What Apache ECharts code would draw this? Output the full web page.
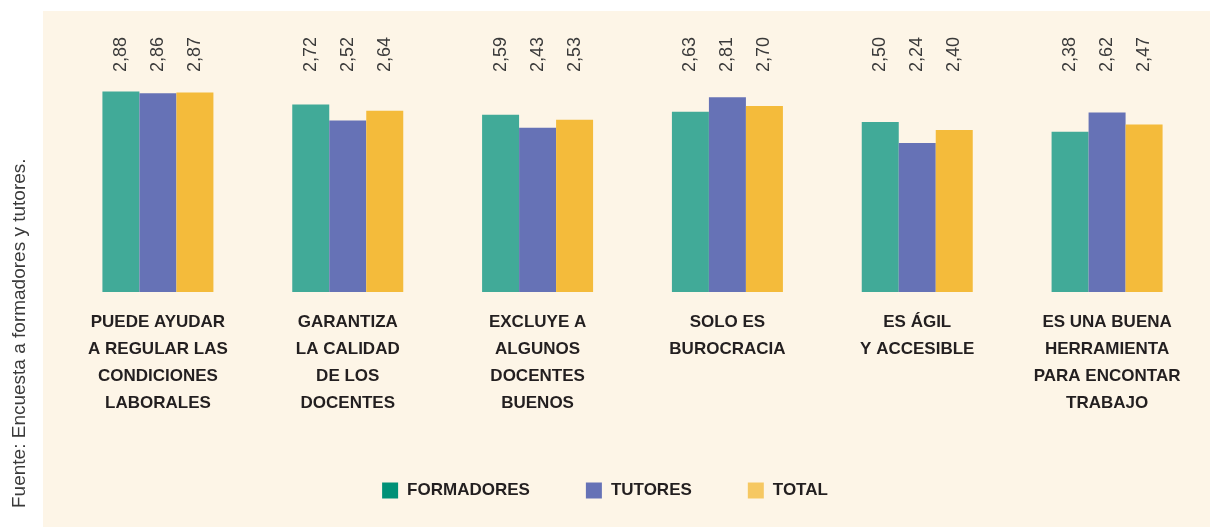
<!DOCTYPE html>
<html>
<head>
<meta charset="utf-8">
<script src="https://cdn.jsdelivr.net/npm/echarts@6/dist/echarts.min.js"></script>
<style>
  html, body { margin: 0; padding: 0; background: #fff; }
  #chart { width: 1210px; height: 527px; }
</style>
</head>
<body>
<div id="chart"></div>
<script>
const categories = [
  'PUEDE AYUDAR\nA REGULAR LAS\nCONDICIONES\nLABORALES',
  'GARANTIZA\nLA CALIDAD\nDE LOS\nDOCENTES',
  'EXCLUYE A\nALGUNOS\nDOCENTES\nBUENOS',
  'SOLO ES\nBUROCRACIA',
  'ES ÁGIL\nY ACCESIBLE',
  'ES UNA BUENA\nHERRAMIENTA\nPARA ENCONTAR\nTRABAJO'
];
const formadores = [2.88, 2.72, 2.59, 2.63, 2.50, 2.38];
const tutores = [2.86, 2.52, 2.43, 2.81, 2.24, 2.62];
const total = [2.87, 2.64, 2.53, 2.70, 2.40, 2.47];
const seriesNames = ['FORMADORES', 'TUTORES', 'TOTAL'];
const source = 'Fuente: Encuesta a formadores y tutores.';

const barColors = ['#41aa98', '#6672b6', '#f4bb3b'];
const legendColors = ['#009177', '#6672b6', '#f6c862'];

const chart = echarts.init(document.getElementById('chart'));

const makeSeries = (name, data, i) => ({
  name: name,
  type: 'bar',
  data: data,
  barWidth: 37,
  barGap: '0%',
  itemStyle: { color: barColors[i] },
  label: {
    show: true,
    rotate: 90,
    align: 'left',
    verticalAlign: 'middle',
    fontFamily: 'Liberation Sans',
    fontSize: 18,
    color: '#3a3a3a',
    formatter: (p) => p.value.toFixed(2).replace('.', ',')
  },
  // value labels sit on one line above the bars, not on top of each bar
  labelLayout: (p) => ({ x: p.rect.x + p.rect.width / 2, y: 72 })
});

chart.setOption({
  backgroundColor: '#ffffff',
  animation: false,
  graphic: [
    {
      type: 'rect',
      z: -10,
      shape: { x: 43, y: 11, width: 1167, height: 516 },
      style: { fill: '#fdf5e7' }
    },
    {
      type: 'text',
      x: 20,
      y: 508,
      rotation: Math.PI / 2,
      style: {
        text: source,
        fontFamily: 'Liberation Sans',
        fontSize: 19,
        fill: '#3a3a3a',
        align: 'left',
        verticalAlign: 'middle'
      }
    }
  ],
  legend: {
    bottom: 23,
    left: 'center',
    itemWidth: 16,
    itemHeight: 16,
    itemGap: 56,
    icon: 'rect',
    textStyle: {
      fontFamily: 'Liberation Sans',
      fontWeight: 'bold',
      fontSize: 17,
      color: '#231f20',
      padding: [0, 0, 0, 4]
    },
    data: seriesNames.map((n, i) => ({ name: n, itemStyle: { color: legendColors[i] } }))
  },
  grid: { left: 63, right: 8, top: 82, bottom: 235 },
  xAxis: {
    type: 'category',
    data: categories,
    axisLine: { show: false },
    axisTick: { show: false },
    axisLabel: {
      interval: 0,
      margin: 17,
      fontFamily: 'Liberation Sans',
      fontWeight: 'bold',
      fontSize: 17,
      lineHeight: 27,
      color: '#231f20'
    }
  },
  yAxis: {
    type: 'value',
    min: 0.38,
    max: 3,
    show: false,
    splitLine: { show: false }
  },
  series: [
    makeSeries(seriesNames[0], formadores, 0),
    makeSeries(seriesNames[1], tutores, 1),
    makeSeries(seriesNames[2], total, 2)
  ]
});
</script>
</body>
</html>
